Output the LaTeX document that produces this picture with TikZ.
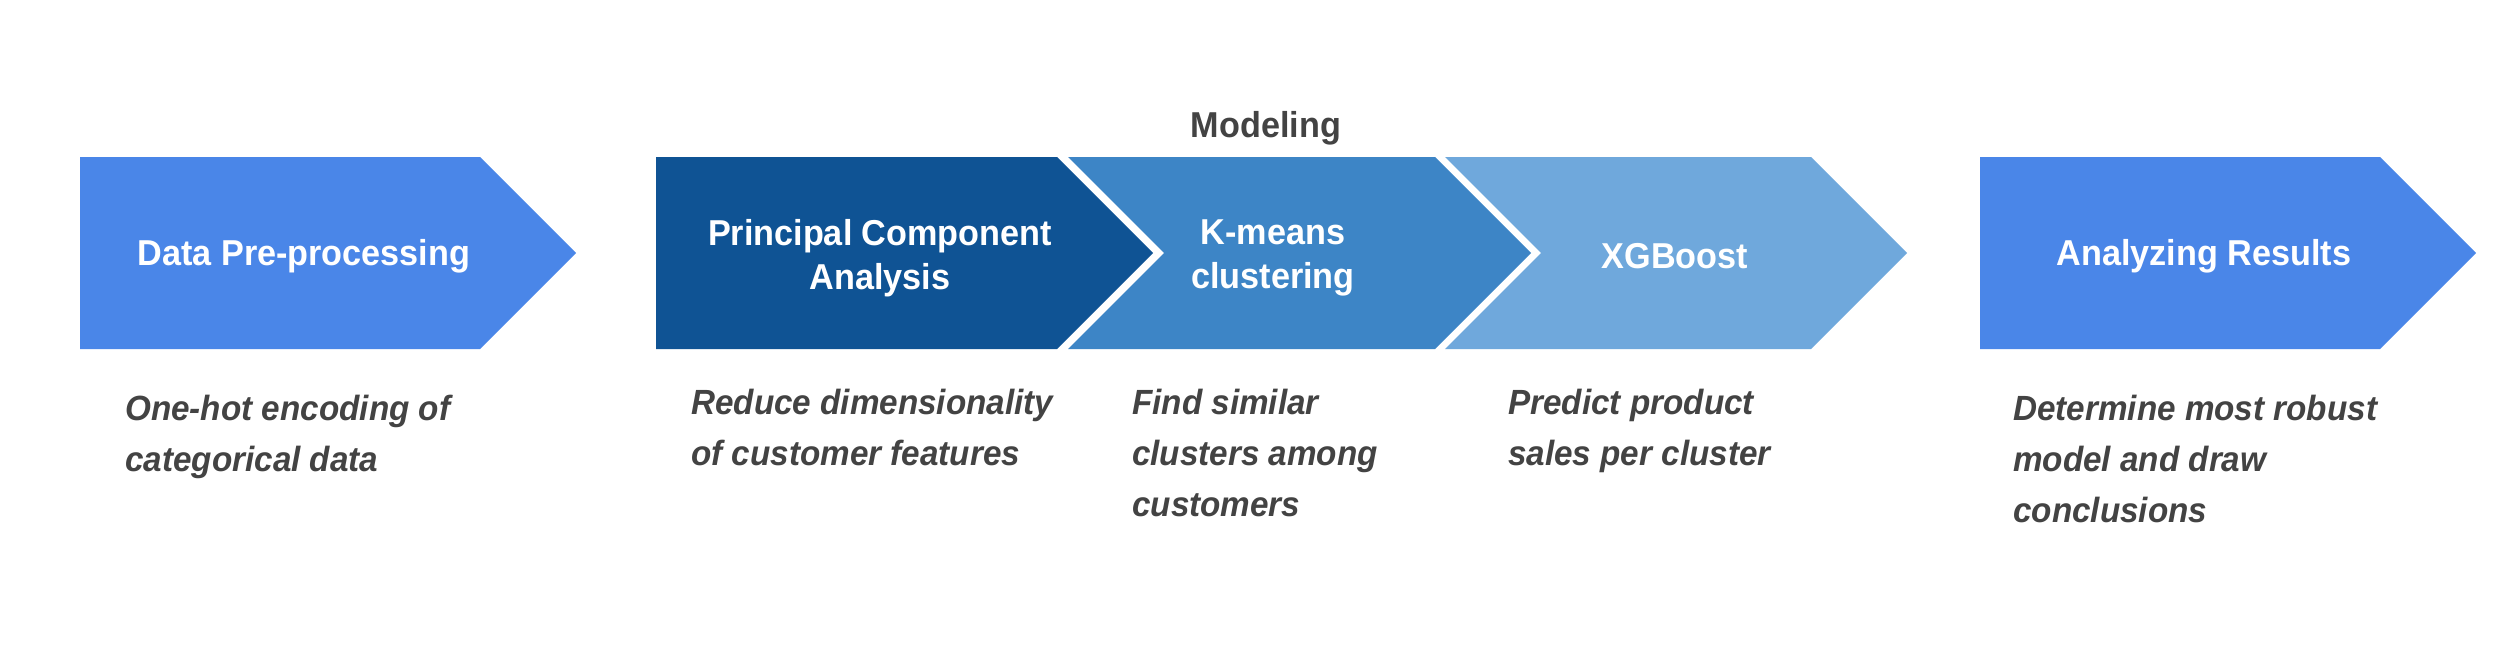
\documentclass[tikz,border=0pt]{standalone}
\usepackage{fontspec}
\setmainfont{Liberation Sans}
\newfontfamily\hfont[FakeStretch=0.95]{Liberation Sans}
\definecolor{cblue}{HTML}{4A86E8}
\definecolor{dblue}{HTML}{0F5394}
\definecolor{mblue}{HTML}{3D85C6}
\definecolor{lblue}{HTML}{6FA8DC}
\definecolor{tgray}{HTML}{434343}
\begin{document}
\begin{tikzpicture}[x=1pt,y=-1pt,
  headtext/.style={text=white, font=\hfont\bfseries\fontsize{36}{44}\selectfont, align=center, inner sep=0pt},
  desctext/.style={text=tgray, font=\hfont\bfseries\itshape\fontsize{35}{51}\selectfont, align=left, anchor=north west, inner sep=0pt},
  grouptext/.style={text=tgray, font=\hfont\bfseries\fontsize{36}{44}\selectfont, inner sep=0pt}]
\useasboundingbox[fill=white] (0,0) rectangle (2500,670);
% chevrons
\fill[cblue] (80,157) -- (480,157) -- (576,253) -- (480,349) -- (80,349) -- cycle;
\fill[dblue] (656,157) -- (1057,157) -- (1153,253) -- (1057,349) -- (656,349) -- cycle;
\fill[mblue] (1068,157) -- (1435,157) -- (1531,253) -- (1435,349) -- (1068,349) -- (1164,253) -- cycle;
\fill[lblue] (1445,157) -- (1811,157) -- (1907,253) -- (1811,349) -- (1445,349) -- (1541,253) -- cycle;
\fill[cblue] (1980,157) -- (2380,157) -- (2476,253) -- (2380,349) -- (1980,349) -- cycle;
% labels
\node[grouptext] (model) at (1266,128) {Modeling};
\node[headtext] (dpp) at (304,256) {Data Pre-processing};
\node[headtext] (pca) at (880,258) {Principal Component\\Analysis};
\node[headtext] (km) at (1273,258) {K-means\\clustering};
\node[headtext] (xgb) at (1675,256) {XGBoost};
\node[headtext] (ar) at (2204,256) {Analyzing Results};
% descriptions
\node[desctext] (d1) at (125,395) {One-hot encoding of\\categorical data};
\node[desctext] (d2) at (691,389) {Reduce dimensionality\\of customer features};
\node[desctext] (d3) at (1132,389) {Find similar\\clusters among\\customers};
\node[desctext] (d4) at (1508,389) {Predict product\\sales per cluster};
\node[desctext] (d5) at (2013,395) {Determine most robust\\model and draw\\conclusions};
\end{tikzpicture}
\end{document}
